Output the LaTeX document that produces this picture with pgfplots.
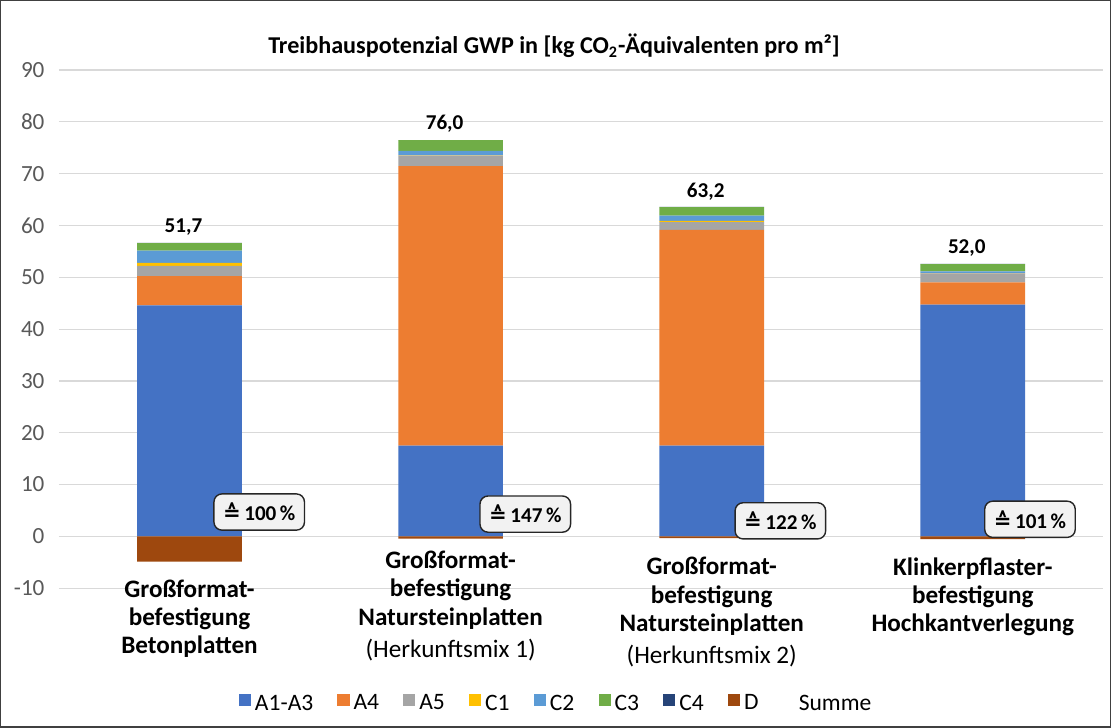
\documentclass[border=0pt]{standalone}
\usepackage{pgfplots}
\pgfplotsset{compat=1.18}
\usepackage{fontspec}
\setmainfont{Carlito}
\newfontfamily\djv{DejaVu Sans}
\definecolor{cA}{HTML}{4472C4}
\definecolor{cAf}{HTML}{ED7D31}
\definecolor{cAg}{HTML}{A5A5A5}
\definecolor{cCa}{HTML}{FFC000}
\definecolor{cCb}{HTML}{5B9BD5}
\definecolor{cCc}{HTML}{70AD47}
\definecolor{cCd}{HTML}{264478}
\definecolor{cD}{HTML}{9E480E}
\definecolor{gridc}{HTML}{D9D9D9}
\definecolor{tickc}{HTML}{595959}
\begin{document}
\begin{tikzpicture}[x=1pt,y=1pt]
\draw[black!75, line width=0.6pt] (3.5,0.5) rectangle (555,361.5);
\node[font=\bfseries\fontsize{12}{14}\selectfont] at (278.5,339) {Treibhauspotenzial GWP in [kg CO\textsubscript{2}-Äquivalenten pro m²]};
\begin{axis}[
  at={(32.5pt,69.5pt)}, anchor=south west,
  width=519pt, height=257.5pt, scale only axis,
  ymin=-10, ymax=90, ytick={-10,0,10,20,30,40,50,60,70,80,90},
  xmin=-0.5, xmax=3.5, xtick=\empty,
  ybar stacked, bar width=52pt,
  ymajorgrids, grid style={color=gridc, line width=0.6pt},
  axis line style={draw=none},
  major tick length=0pt,
  /pgf/number format/assume math mode=true,
  yticklabel style={font=\fontsize{11.5}{13}\selectfont, text=tickc, inner sep=0pt, xshift=-7pt},
  legend columns=-1,
  legend image code/.code={\path[#1, draw=none] (0pt,-1.2pt) rectangle (6pt,4.8pt);},
  legend style={draw=none, fill=none, at={(0.477,-0.2233)}, anchor=center,
    font=\fontsize{11.7}{13}\selectfont,
    /tikz/every even column/.append style={column sep=10pt},
    /tikz/every odd column/.append style={column sep=0pt}},
  clip=false,
]
\addplot[fill=cA, draw=none] coordinates {(0,44.6) (1,17.5) (2,17.5) (3,44.7)};
\addlegendentry{A1-A3}
\addplot[fill=cAf, draw=none] coordinates {(0,5.6) (1,53.95) (2,41.65) (3,4.3)};
\addlegendentry{A4}
\addplot[fill=cAg, draw=none] coordinates {(0,2.0) (1,2.05) (2,1.5) (3,1.75)};
\addlegendentry{A5}
\addplot[fill=cCa, draw=none] coordinates {(0,0.6) (1,0.05) (2,0.25) (3,0.05)};
\addlegendentry{C1}
\addplot[fill=cCb, draw=none] coordinates {(0,2.35) (1,0.85) (2,1.0) (3,0.35)};
\addlegendentry{C2}
\addplot[fill=cCc, draw=none] coordinates {(0,1.45) (1,2.05) (2,1.65) (3,1.4)};
\addlegendentry{C3}
\addplot[fill=cCd, draw=none] coordinates {(0,0.02) (1,0.02) (2,0.02) (3,0.02)};
\addlegendentry{C4}
\addlegendimage{fill=cD, draw=none}
\addlegendentry{D}
\addlegendimage{fill=none, draw=none}
\addlegendentry{Summe}
% sum labels
\node[font=\bfseries\fontsize{10.5}{12}\selectfont] at (axis cs:-0.023,59.6) {51,7};
\node[font=\bfseries\fontsize{10.5}{12}\selectfont] at (axis cs:0.977,79.6) {76,0};
\node[font=\bfseries\fontsize{10.5}{12}\selectfont] at (axis cs:1.977,66.6) {63,2};
\node[font=\bfseries\fontsize{10.5}{12}\selectfont] at (axis cs:2.977,55.6) {52,0};
% category labels
\tikzset{clab/.style={anchor=north, align=center, inner sep=0pt, font=\bfseries\fontsize{12.5}{14}\selectfont}}
\node[clab] at (axis cs:0,-8.3) {Großformat-\\befestigung\\Betonplatten};
\node[clab] at (axis cs:1,-2.8) {Großformat-\\befestigung\\Natursteinplatten\\[2pt]\mdseries(Herkunftsmix 1)};
\node[clab] at (axis cs:2,-4.0) {Großformat-\\befestigung\\Natursteinplatten\\[2pt]\mdseries(Herkunftsmix 2)};
\node[clab] at (axis cs:3,-4.0) {Klinkerpflaster-\\befestigung\\Hochkantverlegung};
\end{axis}
\begin{axis}[
  at={(32.5pt,69.5pt)}, anchor=south west,
  width=519pt, height=257.5pt, scale only axis,
  ymin=-10, ymax=90, xmin=-0.5, xmax=3.5,
  hide axis, ybar, bar width=52pt, bar shift=0pt, clip=false,
]
\addplot[fill=cD, draw=none] coordinates {(0,-4.85) (1,-0.45) (2,-0.35) (3,-0.55)};
\tikzset{pbox/.style={draw=black!85, fill=black!5, rounded corners=4pt, line width=0.7pt, minimum width=45pt, minimum height=18pt, inner sep=2pt, font=\bfseries\fontsize{10.5}{12}\selectfont}}
\node[pbox] at (axis cs:0.267,4.7) {{\djv ≙}\,100\,\%};
\node[pbox] at (axis cs:1.286,4.3) {{\djv ≙}\,147\,\%};
\node[pbox] at (axis cs:2.263,3.0) {{\djv ≙}\,122\,\%};
\node[pbox] at (axis cs:3.219,3.3) {{\djv ≙}\,101\,\%};
\end{axis}
\end{tikzpicture}
\end{document}
